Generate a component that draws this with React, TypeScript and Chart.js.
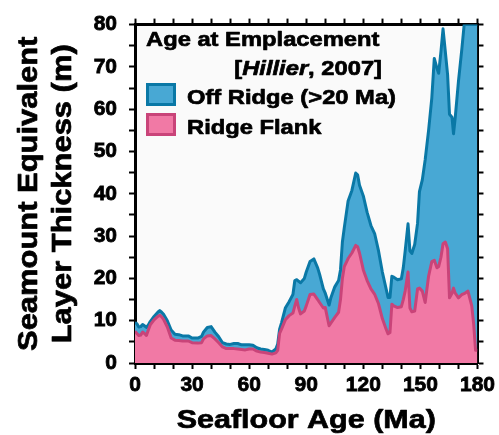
import React, { useEffect, useRef } from "react";
import { Chart, registerables } from "chart.js";
Chart.register(...registerables);

const ages = [0,1,2,3,4,5,6,7,8,10,12,13,14,15,17,19,21,23,25,28,30,33,35,36,38,40,42,44,46,48,50,52,54,56,58,60,62,64,66,68,70,72,74,75,76,77,79,81,83,84,85,86,87,89,90,92,94,96,97,99,100,102,103,105,107,108,109,110,112,114,116,117,118,120,122,124,126,128,130,132,133,134,135,136,138,140,141,142,143.5,144.5,145.5,147,148.5,149.5,151,152.5,154.3,156,157.3,158.7,159.6,160.8,161.9,163.1,164.3,165.3,166.6,167.4,168.3,170,171.8,173,175,177,178,179,180];
const offRidgeTop = [9.6,9.3,8.5,8.6,9.1,8.8,8.4,9.0,9.8,11.0,12.0,12.4,12.0,11.5,10.0,7.8,6.8,6.7,6.4,6.4,5.9,5.9,6.3,7.3,8.4,8.6,7.3,6.2,4.8,4.5,4.4,4.6,4.6,4.3,4.3,4.3,4.2,3.6,3.3,3.2,3.0,2.6,3.3,4.5,8.0,9.5,13.0,14.5,16.2,19.5,19.7,19.3,19.0,20.0,21.5,24.0,24.6,22.5,21.0,17.5,16.5,13.7,15.5,18.0,19.5,22.0,28.6,32.0,38.3,40.8,44.9,44.5,42.0,39.5,35.6,32.5,30.5,26.5,21.5,17.5,15.5,15.5,20.5,20.3,19.7,19.9,22.5,26.5,32.9,26.5,25.9,28.0,33.0,40.5,43.3,48.0,55.0,62.7,72.0,69.7,68.5,73.6,79.0,73.6,68.1,58.8,58.1,54.2,58.0,66.6,74.3,80,80,80,80,80,80];
const ridgeFlank = [7.5,7.0,6.5,6.6,7.3,7.0,6.5,7.8,9.0,10.2,11.0,11.3,10.9,10.3,8.5,5.9,5.4,5.3,5.2,5.2,4.8,4.7,4.8,5.7,6.4,6.5,5.7,4.8,3.8,3.4,3.4,3.4,3.3,3.2,3.1,3.3,3.3,2.8,2.6,2.5,2.3,2.1,2.4,3.0,7.0,8.0,10.2,11.2,11.8,13.5,15.0,13.0,11.6,12.3,13.5,16.2,16.3,15.0,14.3,13.0,13.1,8.8,9.5,10.8,12.0,15.0,20.0,22.8,24.7,26.0,27.8,27.5,26.0,22.0,19.5,17.5,16.2,14.0,10.5,8.0,6.9,7.2,13.9,13.5,13.1,13.3,15.0,17.0,21.5,13.0,12.1,12.3,17.5,17.7,17.0,14.3,20.5,24.0,24.3,22.5,22.8,25.0,28.2,28.6,27.0,15.4,16.5,17.7,16.5,15.4,16.2,16.4,17.0,13.5,9.2,3.0,3.0];

const xTickStep = 10;
const yTickStep = 5;

const BLUE_FILL = "#48a8d4";
const BLUE_LINE = "#0a78a6";
const PINK_FILL = "#f179a5";
const PINK_LINE = "#c94479";
const FONT = "'Liberation Sans', Arial, sans-serif";

function heavyText(ctx: any, text: string, x: number, y: number, font: string, sx: number, align: CanvasTextAlign) {
  ctx.save();
  ctx.translate(x, y);
  ctx.scale(sx, 1);
  ctx.font = font;
  ctx.textAlign = align;
  ctx.textBaseline = "alphabetic";
  ctx.fillStyle = "#000";
  ctx.strokeStyle = "#000";
  ctx.lineWidth = 0.7;
  ctx.lineJoin = "round";
  ctx.fillText(text, 0, 0);
  ctx.strokeText(text, 0, 0);
  ctx.restore();
}

const decorPlugin = {
  id: "decor",
  beforeDraw(chart: any) {
    const { ctx, chartArea: a } = chart;
    ctx.save();
    ctx.fillStyle = "#fafafa";
    ctx.fillRect(a.left, a.top, a.right - a.left, a.bottom - a.top);
    ctx.restore();
  },
  afterDraw(chart: any) {
    const { ctx, chartArea: a } = chart;
    ctx.save();
    // x title
    heavyText(ctx, "Seafloor Age (Ma)", (a.left + a.right) / 2, 428, `bold 26.5px ${FONT}`, 1.15, "center");
    // y title
    ctx.save();
    ctx.translate(0, (a.top + a.bottom) / 2);
    ctx.rotate(-Math.PI / 2);
    heavyText(ctx, "Seamount Equivalent", 0, 37, `bold 27px ${FONT}`, 1.145, "center");
    heavyText(ctx, "Layer Thickness (m)", 0, 71, `bold 27px ${FONT}`, 1.145, "center");
    ctx.restore();
    // legend
    const sx = 1.13;
    const f = `bold 21px ${FONT}`;
    const fi = `italic bold 21px ${FONT}`;
    heavyText(ctx, "Age at Emplacement", 146, 46, f, sx, "left");
    const right = 382;
    ctx.font = f;
    const w1 = ctx.measureText("[").width * sx;
    const w3 = ctx.measureText(", 2007]").width * sx;
    ctx.font = fi;
    const w2 = ctx.measureText("Hillier").width * sx;
    let x = right - w1 - w2 - w3;
    heavyText(ctx, "[", x, 75, f, sx, "left");
    x += w1;
    heavyText(ctx, "Hillier", x, 75, fi, sx, "left");
    x += w2;
    heavyText(ctx, ", 2007]", x, 75, f, sx, "left");
    const items = [
      { label: "Off Ridge (>20 Ma)", fill: BLUE_FILL, line: BLUE_LINE, y: 83 },
      { label: "Ridge Flank", fill: PINK_FILL, line: PINK_LINE, y: 113 },
    ];
    for (const it of items) {
      ctx.fillStyle = it.fill;
      ctx.fillRect(146, it.y, 30, 23);
      ctx.strokeStyle = it.line;
      ctx.lineWidth = 3;
      ctx.strokeRect(147.5, it.y + 1.5, 27, 20);
      heavyText(ctx, it.label, 187, it.y + 21, f, sx, "left");
    }
    ctx.restore();
  },
};

export default function App() {
  const ref = useRef<HTMLCanvasElement>(null);
  useEffect(() => {
    if (!ref.current) return;
    const blue = ages.map((x, i) => ({ x, y: offRidgeTop[i] }));
    const pink = ages.map((x, i) => ({ x, y: ridgeFlank[i] }));
    const tickFont = { family: FONT, size: 21, weight: "bold" as const };
    const gridCommon = { drawOnChartArea: false, tickLength: 6, tickWidth: 2, tickColor: "#000" };
    const border = { display: true, color: "#000", width: 3 };
    const chart = new Chart(ref.current, {
      type: "line",
      data: {
        datasets: [
          {
            label: "Ridge Flank",
            data: pink,
            borderColor: PINK_LINE,
            backgroundColor: PINK_FILL,
            borderWidth: 3,
            pointRadius: 0,
            fill: "origin",
            tension: 0,
            borderJoinStyle: "round",
          },
          {
            label: "Off Ridge (>20 Ma)",
            data: blue,
            borderColor: BLUE_LINE,
            backgroundColor: BLUE_FILL,
            borderWidth: 3,
            pointRadius: 0,
            fill: "-1",
            tension: 0,
            borderJoinStyle: "round",
          },
        ],
      },
      options: {
        responsive: false,
        animation: false,
        layout: { padding: 0 },
        plugins: { legend: { display: false }, tooltip: { enabled: false } },
        scales: {
          x: {
            type: "linear",
            position: "bottom",
            min: 0,
            max: 180,
            ticks: {
              stepSize: xTickStep,
              autoSkip: false,
              maxRotation: 0,
              color: "#000",
              font: tickFont,
              padding: 4,
              textStrokeColor: "#000",
              textStrokeWidth: 0.8,
              callback: (v: any) => (Number(v) % 30 === 0 ? String(v) : ""),
            },
            grid: gridCommon,
            border,
            afterFit: (s: any) => { s.height = 72; },
          },
          x2: {
            type: "linear",
            position: "top",
            min: 0,
            max: 180,
            ticks: { stepSize: xTickStep, autoSkip: false, display: false },
            grid: gridCommon,
            border,
            afterFit: (s: any) => { s.height = 19; },
          },
          y: {
            type: "linear",
            position: "left",
            min: 0,
            max: 80,
            ticks: {
              stepSize: yTickStep,
              autoSkip: false,
              color: "#000",
              font: tickFont,
              padding: 12,
              textStrokeColor: "#000",
              textStrokeWidth: 0.8,
              callback: (v: any) => (Number(v) % 10 === 0 ? String(v) : ""),
            },
            grid: gridCommon,
            border,
            afterFit: (s: any) => { s.width = 135; },
          },
          y2: {
            type: "linear",
            position: "right",
            min: 0,
            max: 80,
            ticks: { stepSize: yTickStep, autoSkip: false, display: false },
            grid: gridCommon,
            border,
            afterFit: (s: any) => { s.width = 20; },
          },
        },
      },
      plugins: [decorPlugin],
    });
    return () => chart.destroy();
  }, []);
  return (
    <div style={{ position: "absolute", left: 0, top: 0, width: 499, height: 435, background: "#fff" }}>
      <canvas ref={ref} width={499} height={435} style={{ display: "block" }} />
    </div>
  );
}
